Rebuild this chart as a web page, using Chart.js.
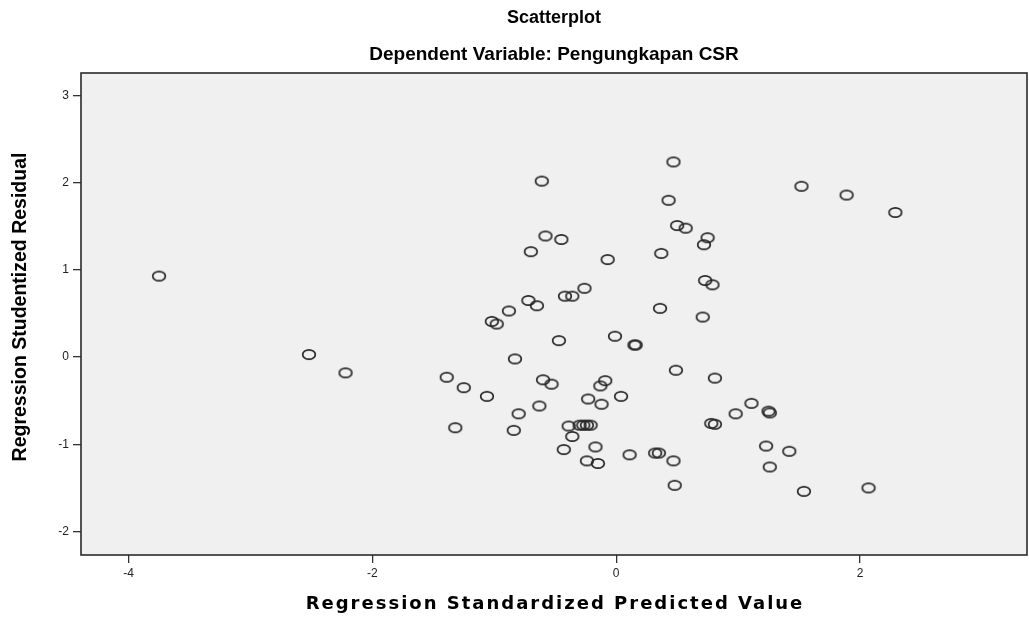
<!DOCTYPE html>
<html>
<head>
<meta charset="utf-8">
<script src="https://cdn.jsdelivr.net/npm/chart.js@4.4.1/dist/chart.umd.min.js"></script>
<style>
  html, body { margin: 0; padding: 0; background: #ffffff; }
  #wrap { width: 1029px; height: 621px; }
</style>
</head>
<body>
<div id="wrap"><canvas id="c" width="1029" height="621"></canvas></div>
<script>
// ---- data ----
const predictedValues = [
  -3.75, -2.52, -2.22,
  -0.61, -0.58, -0.45, -0.70, -0.07, -0.26, -0.42, -0.36, -0.72, -0.65, -0.88,
  -1.02, -0.98, -0.47, -0.01, 0.15, 0.16, -0.83, -1.39, -1.25, -1.06, -0.60,
  -0.53, -0.09, -0.13, 0.04, -0.23, -0.12, -0.63, -0.80, -1.32, -0.84, -0.39,
  -0.30, -0.27, -0.24, -0.21, -0.36, -0.17, -0.43, 0.11, -0.24, -0.15,
  0.32, 0.35, 0.47, 0.48, 0.78, 0.81, 1.23, 1.42, 1.26, 1.54, 2.07,
  0.47, 0.43, 0.50, 0.57, 0.75, 0.72, 0.37, 0.73, 0.79, 0.36, 0.71,
  0.49, 0.81, 1.11, 0.98, 1.25, 1.26, 1.52, 1.89, 2.29
];
const studentizedResiduals = [
  0.93, 0.03, -0.18,
  2.02, 1.39, 1.35, 1.21, 1.12, 0.79, 0.70, 0.70, 0.65, 0.59, 0.53,
  0.41, 0.38, 0.19, 0.24, 0.14, 0.14, -0.02, -0.23, -0.35, -0.45, -0.26,
  -0.31, -0.27, -0.33, -0.45, -0.48, -0.54, -0.56, -0.65, -0.81, -0.84, -0.79,
  -0.78, -0.78, -0.78, -0.78, -0.91, -1.03, -1.06, -1.12, -1.19, -1.22,
  -1.10, -1.10, -1.19, -1.47, -0.76, -0.77, -1.02, -1.08, -1.26, -1.54, -1.50,
  2.24, 1.80, 1.51, 1.48, 1.37, 1.29, 1.19, 0.88, 0.83, 0.56, 0.46,
  -0.15, -0.24, -0.53, -0.65, -0.62, -0.64, 1.96, 1.86, 1.66
];
const xTickValues = [-4, -2, 0, 2];
const yTickValues = [-2, -1, 0, 1, 2, 3];
const chartTitle = "Scatterplot";
const chartSubtitle = "Dependent Variable: Pengungkapan CSR";
const xAxisTitle = "Regression Standardized Predicted Value";
const yAxisTitle = "Regression Studentized Residual";

// ---- build point style (open ellipse) ----
function makeMarker() {
  const c = document.createElement('canvas');
  c.width = 16; c.height = 13;
  const g = c.getContext('2d');
  g.strokeStyle = '#262626';
  g.lineWidth = 1.7;
  g.beginPath();
  g.ellipse(8, 6.5, 6.3, 4.7, 0, 0, Math.PI * 2);
  g.stroke();
  return c;
}
const marker = makeMarker();

const points = predictedValues.map((x, i) => ({ x: x, y: studentizedResiduals[i] }));

const frame = {
  id: 'frame',
  beforeDatasetsDraw(chart) {
    const a = chart.chartArea, ctx = chart.ctx;
    ctx.save();
    ctx.fillStyle = '#f0f0f0';
    ctx.fillRect(a.left, a.top, a.right - a.left, a.bottom - a.top);
    ctx.restore();
  },
  afterDraw(chart) {
    const a = chart.chartArea, ctx = chart.ctx;
    ctx.save();
    ctx.strokeStyle = '#2a2a2a';
    ctx.lineWidth = 1.6;
    ctx.strokeRect(a.left, a.top, a.right - a.left, a.bottom - a.top);
    const cx = (a.left + a.right) / 2;
    ctx.fillStyle = '#000';
    ctx.textAlign = 'center';
    ctx.textBaseline = 'middle';
    ctx.font = 'bold 18px "Liberation Sans", Arial';
    ctx.fillText(chartTitle, cx, 18);
    ctx.font = 'bold 19px "Liberation Sans", Arial';
    ctx.fillText(chartSubtitle, cx, 55);
    ctx.font = 'bold 18px "DejaVu Sans", Verdana, sans-serif';
    try { ctx.letterSpacing = '2px'; } catch (e) {}
    ctx.fillText(xAxisTitle, cx + 1, 604);
    try { ctx.letterSpacing = '0px'; } catch (e) {}
    ctx.translate(21, 307);
    ctx.rotate(-Math.PI / 2);
    ctx.font = 'bold 19.5px "Liberation Sans", Arial';
    ctx.fillText(yAxisTitle, 0, 0);
    ctx.restore();
  }
};

new Chart(document.getElementById('c'), {
  type: 'scatter',
  data: {
    datasets: [{
      data: points,
      pointStyle: marker,
      pointRadius: 6,
      pointHoverRadius: 6,
      borderColor: '#262626',
      backgroundColor: 'rgba(0,0,0,0)',
      clip: false
    }]
  },
  options: {
    responsive: false,
    animation: false,
    devicePixelRatio: 1,
    layout: { autoPadding: false, padding: { top: 73, right: 2, left: 0, bottom: 0 } },
    plugins: { legend: { display: false }, tooltip: { enabled: false }, title: { display: false } },
    scales: {
      x: {
        type: 'linear',
        min: -4.39, max: 3.37,
        afterFit(s) { s.height = 66; },
        afterBuildTicks(s) { s.ticks = xTickValues.map(v => ({ value: v })); },
        grid: { display: true, drawOnChartArea: false, drawTicks: true, tickLength: 8, color: '#333', lineWidth: 1.3 },
        border: { display: false },
        ticks: { color: '#222', padding: 3, font: { family: '"Liberation Sans", Arial', size: 12 }, maxRotation: 0 }
      },
      y: {
        type: 'linear',
        min: -2.27, max: 3.26,
        afterFit(s) { s.width = 81; },
        afterBuildTicks(s) { s.ticks = yTickValues.map(v => ({ value: v })); },
        grid: { display: true, drawOnChartArea: false, drawTicks: true, tickLength: 8, color: '#333', lineWidth: 1.3 },
        border: { display: false },
        ticks: { color: '#222', padding: 4, font: { family: '"Liberation Sans", Arial', size: 12 } }
      }
    }
  },
  plugins: [frame]
});
</script>
</body>
</html>
